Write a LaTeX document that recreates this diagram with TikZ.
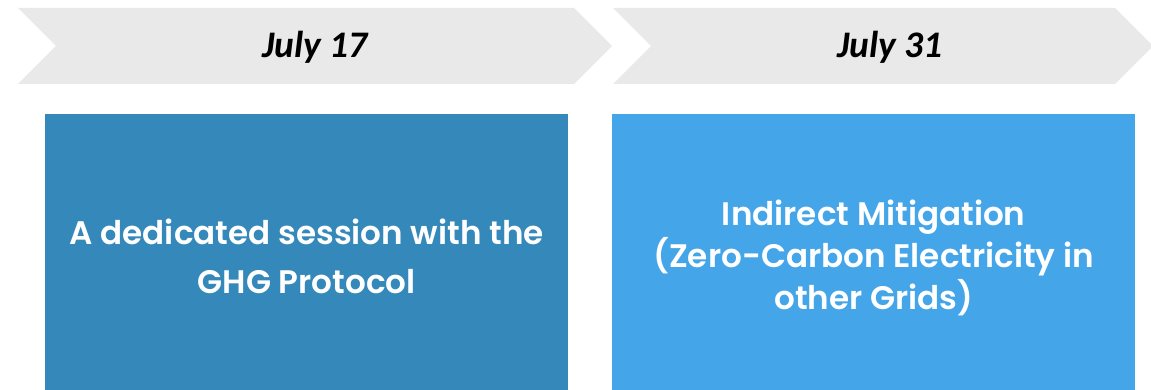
\documentclass[tikz,border=0pt]{standalone}
\usepackage{fontspec}
\newfontfamily\datefont{Carlito}
\newfontfamily\boxfont{Poppins}[UprightFont={* SemiBold}]
\definecolor{chev}{HTML}{E9E9E9}
\definecolor{boxA}{HTML}{3489BA}
\definecolor{boxB}{HTML}{44A5E8}
\begin{document}
\begin{tikzpicture}[x=1pt,y=-1pt,
  chevron/.style={fill=chev,draw=none},
  datelabel/.style={font=\datefont\bfseries\itshape\fontsize{37.5}{40}\selectfont,text=black,inner sep=0pt},
  topicbox/.style={draw=none,minimum width=523pt,minimum height=276pt,anchor=north west,inner sep=0pt},
  topictext/.style={text=white,align=center,inner sep=0pt},
  boxAfont/.style={font=\boxfont\fontsize{32.6}{49}\selectfont},
  boxBfont/.style={font=\boxfont\fontsize{32.6}{42}\selectfont}]
\useasboundingbox (0,0) rectangle (1151,390);
\fill[chevron] (18,8) -- (574,8) -- (612,46) -- (574,84) -- (18,84) -- (56,46) -- cycle;
\fill[chevron] (613,8) -- (1115,8) -- (1153,46) -- (1115,84) -- (613,84) -- (651,46) -- cycle;
\node[datelabel] (d1) at (315,47) {July 17};
\node[datelabel] (d2) at (890,47) {July 31};
\node[topicbox,fill=boxA] (b1) at (45,114) {};
\node[topicbox,fill=boxB] (b2) at (612,114) {};
\node[topictext,boxAfont] (t1) at ([yshift=-4pt]b1.center) {A dedicated session with the\\GHG Protocol};
\node[topictext,boxBfont] (t2) at ([yshift=-6pt]b2.center) {Indirect Mitigation\\(Zero-Carbon Electricity in\\other Grids)};
\end{tikzpicture}
\end{document}
